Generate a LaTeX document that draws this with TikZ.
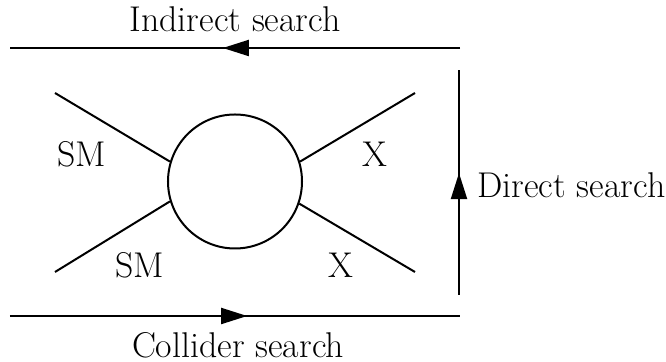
\documentclass[tikz,border=0pt]{standalone}
\usetikzlibrary{arrows.meta,decorations.markings}
\tikzset{
	wire/.style={line width=1pt},
	midarrow/.style={postaction={decorate}, decoration={markings, mark=at position #1 with {\arrow{Triangle[length=13pt,width=8pt]}}}},
	lbl/.style={inner sep=0pt, font=\fontsize{17.9}{21}\selectfont},
}
\begin{document}
\begin{tikzpicture}[x=0.5pt, y=-0.5pt]
	\useasboundingbox (0,0) rectangle (666,362);
	% Blob and legs:
	\node[shape=circle, draw, line width=1pt, minimum size=67pt, inner sep=0pt] (blob) at (235,181.5){};
	\coordinate (smup) at (55,93);
	\coordinate (smdown) at (55,272);
	\coordinate (xup) at (415,93);
	\coordinate (xdown) at (415,272);
	\draw[wire] (blob.163) -- (smup);
	\draw[wire] (blob.197) -- (smdown);
	\draw[wire] (blob.17) -- (xup);
	\draw[wire] (blob.-19) -- (xdown);
	\node[lbl] (smuplabel) at (82,154){SM};
	\node[lbl] (smdownlabel) at (140,265){SM};
	\node[lbl] (xuplabel) at (375,154){X};
	\node[lbl] (xdownlabel) at (341,265){X};
	% Search lines:
	\coordinate (indR) at (460,48);
	\coordinate (indL) at (10,48);
	\coordinate (colL) at (10,316);
	\coordinate (colR) at (460,316);
	\coordinate (dirB) at (459,295);
	\coordinate (dirT) at (459,70);
	\draw[wire, midarrow=0.527] (indR) -- (indL);
	\draw[wire, midarrow=0.527] (colL) -- (colR);
	\draw[wire, midarrow=0.542] (dirB) -- (dirT);
	\node[lbl] (indlabel) at (235,19){Indirect search};
	\node[lbl] (collabel) at (238,345){Collider search};
	\node[lbl, anchor=west] (dirlabel) at (477,185){Direct search};
\end{tikzpicture}
\end{document}
